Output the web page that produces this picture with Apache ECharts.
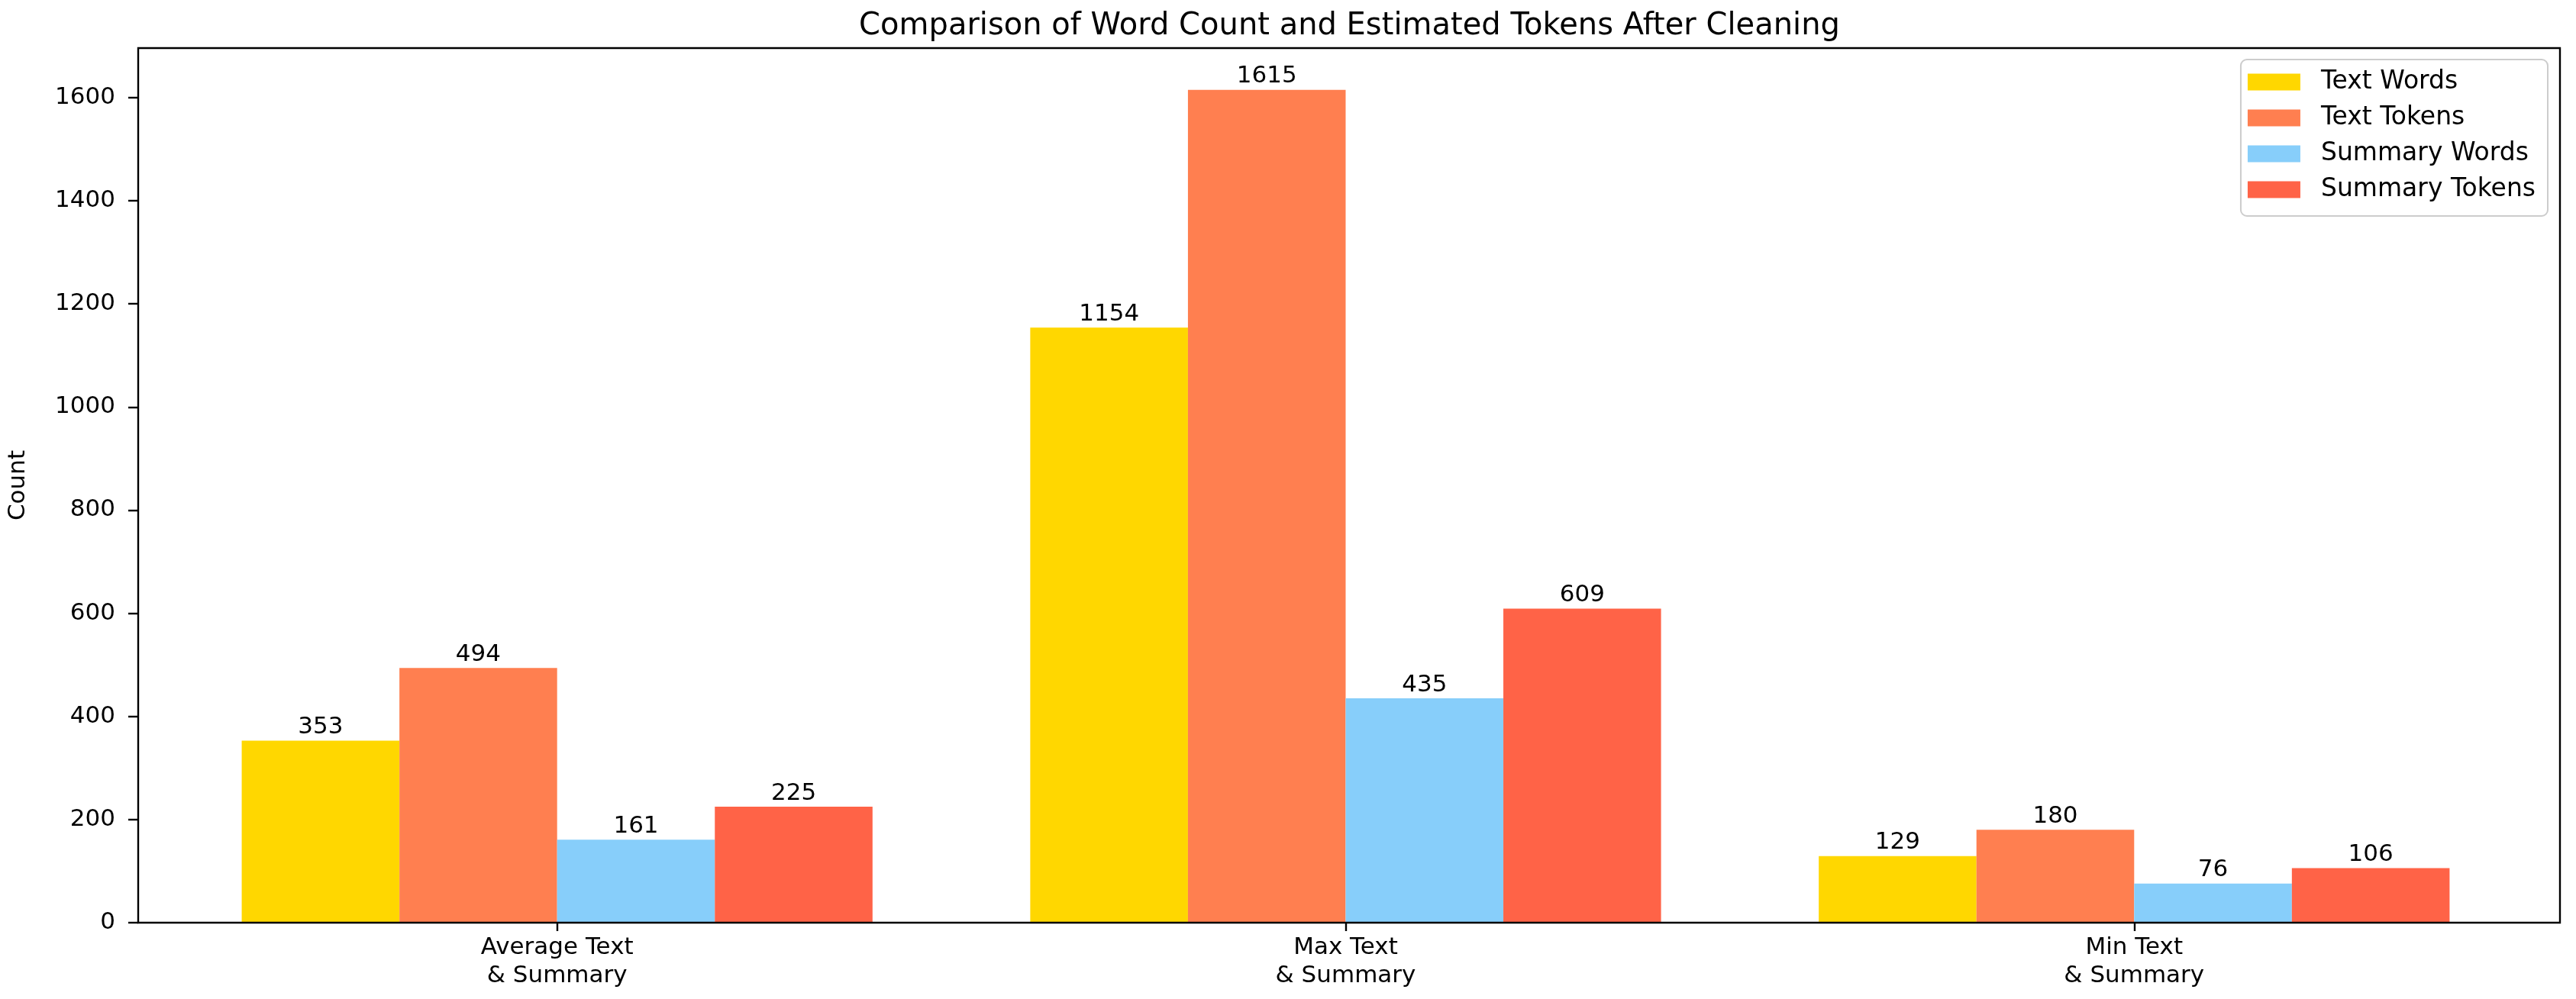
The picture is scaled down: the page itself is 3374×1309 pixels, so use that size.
<!DOCTYPE html>
<html>
<head>
<meta charset="utf-8">
<script src="https://cdn.jsdelivr.net/npm/echarts@6/dist/echarts.min.js"></script>
<style>
html,body{margin:0;padding:0;background:#fff;}
#chart{width:3374px;height:1309px;}
</style>
</head>
<body>
<div id="chart"></div>
<script>
const categories = ['Average Text\n& Summary', 'Max Text\n& Summary', 'Min Text\n& Summary'];
const seriesNames = ['Text Words', 'Text Tokens', 'Summary Words', 'Summary Tokens'];
const textWords = [353, 1154, 129];
const textTokens = [494, 1615, 180];
const summaryWords = [161, 435, 76];
const summaryTokens = [225, 609, 106];
const yTicks = [0, 200, 400, 600, 800, 1000, 1200, 1400, 1600];
const yMax = 1696;
const colors = ['#FFD700', '#FF7F50', '#87CEFA', '#FF6347'];

const W = 3374, H = 1309;
const frame = {left: 172, right: 21, top: 63, bottom: 100};
// matplotlib x-limits extend 0.04 of a category beyond the -0.5..2.5 band range
const plotW = W - frame.left - frame.right;
const unit = plotW / 3.08;
const inset = 0.04 * unit;
const FONT = 'DejaVu Sans';

const chart = echarts.init(document.getElementById('chart'), null, {renderer: 'canvas'});
const seriesData = [textWords, textTokens, summaryWords, summaryTokens];

const option = {
  backgroundColor: '#ffffff',
  animation: false,
  title: {
    text: 'Comparison of Word Count and Estimated Tokens After Cleaning',
    left: frame.left + plotW / 2,
    textAlign: 'center',
    top: 10,
    textStyle: {fontFamily: FONT, fontSize: 40, fontWeight: 'normal', color: '#000'}
  },
  legend: {
    orient: 'vertical',
    top: 78,
    right: 37,
    data: seriesNames,
    icon: 'rect',
    itemWidth: 69,
    itemHeight: 22,
    itemGap: 14,
    padding: [13, 16, 18, 9],
    backgroundColor: 'rgba(255,255,255,0.8)',
    borderColor: '#cccccc',
    borderWidth: 2,
    borderRadius: 8,
    textStyle: {fontFamily: FONT, fontSize: 33, color: '#000', lineHeight: 30, padding: [0, 0, 0, 22]}
  },
  grid: [
    {left: frame.left + inset, right: frame.right + inset, top: frame.top, bottom: frame.bottom, containLabel: false},
    {left: frame.left, right: frame.right, top: frame.top, bottom: frame.bottom, containLabel: false,
     show: true, borderColor: '#000', borderWidth: 2.4, backgroundColor: 'transparent', z: 5}
  ],
  xAxis: [
    {
      type: 'category', gridIndex: 0, data: categories, boundaryGap: true,
      axisLine: {show: false},
      axisTick: {show: true, alignWithLabel: true, length: 11, lineStyle: {color: '#000', width: 2.4}},
      axisLabel: {fontFamily: FONT, fontSize: 31, color: '#000', lineHeight: 37, margin: 14, interval: 0},
      splitLine: {show: false}
    },
    {type: 'value', gridIndex: 1, show: false, min: 0, max: 1}
  ],
  yAxis: [
    {type: 'value', gridIndex: 0, min: 0, max: yMax, show: false, splitLine: {show: false}},
    {
      type: 'value', gridIndex: 1, min: 0, max: yMax, interval: 200,
      name: 'Count', nameLocation: 'middle', nameGap: 142, nameRotate: 90,
      nameTextStyle: {fontFamily: FONT, fontSize: 31, color: '#000'},
      axisLine: {show: false},
      axisTick: {show: true, length: 13, lineStyle: {color: '#000', width: 2.4}, customValues: yTicks},
      axisLabel: {fontFamily: FONT, fontSize: 31, color: '#000', margin: 30, customValues: yTicks,
                  formatter: (v) => String(v)},
      splitLine: {show: false}
    }
  ],
  series: seriesNames.map((name, i) => ({
    name: name,
    type: 'bar',
    xAxisIndex: 0,
    yAxisIndex: 0,
    data: seriesData[i],
    barWidth: '20%',
    barGap: '0%',
    itemStyle: {color: colors[i]},
    label: {show: true, position: 'top', distance: 2, fontFamily: FONT, fontSize: 31, color: '#000'}
  }))
};
chart.setOption(option);
</script>
</body>
</html>
